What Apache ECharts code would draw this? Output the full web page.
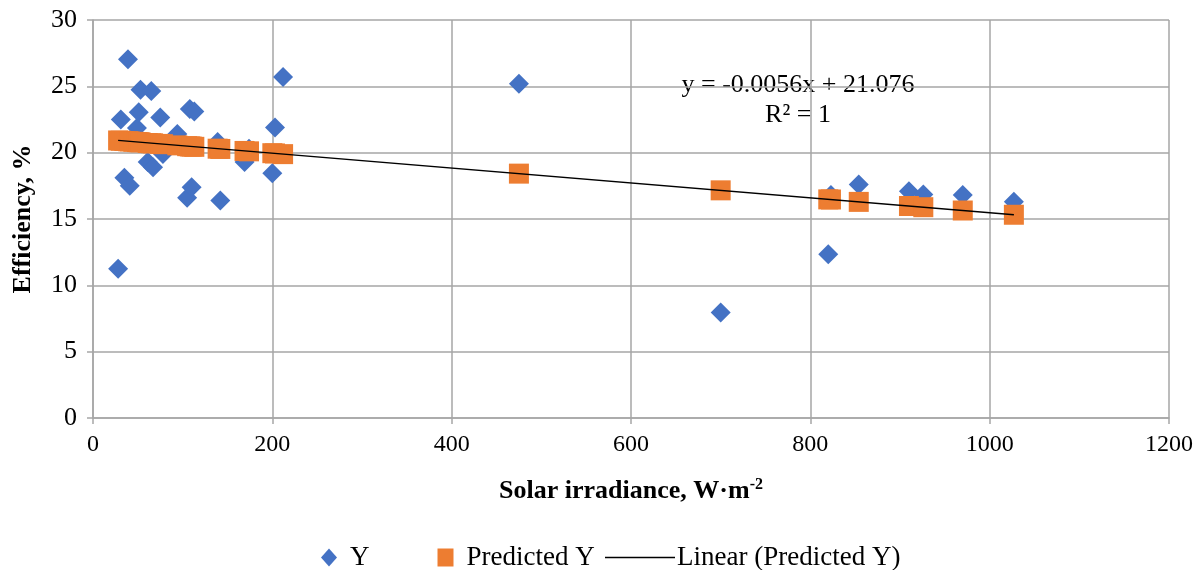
<!DOCTYPE html>
<html>
<head>
<meta charset="utf-8">
<script src="https://cdn.jsdelivr.net/npm/echarts@6/dist/echarts.min.js"></script>
<style>html,body{margin:0;padding:0;background:#fff;}#c{width:1201px;height:570px;}</style>
</head>
<body>
<div id="c"></div>
<script>
// Solar irradiance (W·m-2) for each observation
const irradiance = [28, 31, 35, 39, 41, 45, 49, 51, 53, 61, 65, 67, 75, 78, 94, 105, 108, 110, 113, 139, 142, 169, 174, 200, 203, 212, 475, 700, 820, 823, 854, 910, 926, 970, 1027];
// Measured efficiency Y (%)
const efficiencyY = [11.25, 22.5, 18.1, 27.05, 17.5, 21.2, 21.85, 23.05, 24.75, 19.3, 24.65, 18.9, 22.65, 19.9, 21.4, 16.6, 23.3, 17.4, 23.1, 20.8, 16.4, 19.3, 20.3, 18.45, 21.9, 25.7, 25.2, 7.95, 12.35, 16.8, 17.6, 17.1, 16.85, 16.8, 16.3];
// Predicted efficiency (%)
const predictedY = [20.92, 20.90, 20.88, 20.86, 20.85, 20.82, 20.80, 20.79, 20.78, 20.73, 20.71, 20.70, 20.66, 20.64, 20.55, 20.49, 20.47, 20.46, 20.44, 20.30, 20.28, 20.13, 20.10, 19.96, 19.94, 19.89, 18.42, 17.16, 16.48, 16.47, 16.29, 15.98, 15.89, 15.64, 15.32];
// Linear trendline end points
const trendX = [28, 1027];
const trendY = [20.92, 15.32];
const xTicks = [0, 200, 400, 600, 800, 1000, 1200];
const yTicks = [0, 5, 10, 15, 20, 25, 30];
const eqText = 'y = -0.0056x + 21.076';
const r2Text = 'R² = 1';

const FONT = '"Liberation Serif", "Times New Roman", serif';
const chart = echarts.init(document.getElementById('c'));
const gridColor = '#A6A6A6';

chart.setOption({
  animation: false,
  backgroundColor: '#fff',
  textStyle: { fontFamily: FONT },
  grid: { left: 93, right: 32, top: 20, bottom: 152, containLabel: false },
  xAxis: {
    type: 'value', min: xTicks[0], max: xTicks[xTicks.length - 1], interval: 200,
    name: 'Solar irradiance, W·m{sup|-2}',
    nameLocation: 'middle', nameGap: 59,
    nameTextStyle: {
      fontFamily: FONT, fontSize: 26, fontWeight: 'bold', color: '#000',
      rich: { sup: { fontFamily: FONT, fontSize: 16, fontWeight: 'bold', color: '#000', verticalAlign: 'top', padding: [0, 0, 12, 0] } }
    },
    axisLine: { show: true, lineStyle: { color: gridColor, width: 1.5 } },
    axisTick: { show: true, inside: false, length: 6, lineStyle: { color: gridColor, width: 1.5 } },
    axisLabel: { fontFamily: FONT, fontSize: 24, color: '#000', margin: 15, formatter: v => String(v) },
    splitLine: { show: true, lineStyle: { color: gridColor, width: 1.5 } }
  },
  yAxis: {
    type: 'value', min: yTicks[0], max: yTicks[yTicks.length - 1], interval: 5,
    name: 'Efficiency, %',
    nameLocation: 'middle', nameGap: 57,
    nameTextStyle: { fontFamily: FONT, fontSize: 26, fontWeight: 'bold', color: '#000' },
    axisLine: { show: true, lineStyle: { color: gridColor, width: 1.5 } },
    axisTick: { show: true, inside: false, length: 6, lineStyle: { color: gridColor, width: 1.5 } },
    axisLabel: { fontFamily: FONT, fontSize: 26, color: '#000', margin: 16 },
    splitLine: { show: true, lineStyle: { color: gridColor, width: 1.5 } }
  },
  legend: [
    {
      data: [{ name: 'Y', icon: 'diamond' }, { name: 'Predicted Y', icon: 'rect' }],
      left: 316, top: 539, itemWidth: 16, itemHeight: 18, itemGap: 68,
      textStyle: { fontFamily: FONT, fontSize: 27, color: '#000', padding: [0, 0, 0, 8] }
    },
    {
      data: [{ name: 'Linear (Predicted Y)', icon: 'rect', itemStyle: { color: '#000' } }],
      left: 600, top: 539, itemWidth: 70, itemHeight: 1.5, itemGap: 0,
      textStyle: { fontFamily: FONT, fontSize: 27, color: '#000', padding: [0, 0, 0, -3] }
    }
  ],
  graphic: [
    { type: 'text', x: 798, y: 85, style: { text: eqText, font: '26px ' + FONT, fill: '#000', align: 'center', verticalAlign: 'middle' } },
    { type: 'text', x: 798, y: 115, style: { text: r2Text, font: '26px ' + FONT, fill: '#000', align: 'center', verticalAlign: 'middle' } }
  ],
  series: [
    {
      name: 'Y', type: 'scatter', symbol: 'diamond', symbolSize: 20,
      itemStyle: { color: '#4472C4', opacity: 1 }, z: 2,
      data: irradiance.map((x, i) => [x, efficiencyY[i]])
    },
    {
      name: 'Predicted Y', type: 'scatter', symbol: 'rect', symbolSize: 20,
      itemStyle: { color: '#ED7D31', opacity: 1 }, z: 3,
      data: irradiance.map((x, i) => [x, predictedY[i]])
    },
    {
      name: 'Linear (Predicted Y)', type: 'line', symbol: 'none', z: 4,
      lineStyle: { color: '#000', width: 1.3 }, itemStyle: { color: '#000' },
      data: trendX.map((x, i) => [x, trendY[i]])
    }
  ]
});
</script>
</body>
</html>
